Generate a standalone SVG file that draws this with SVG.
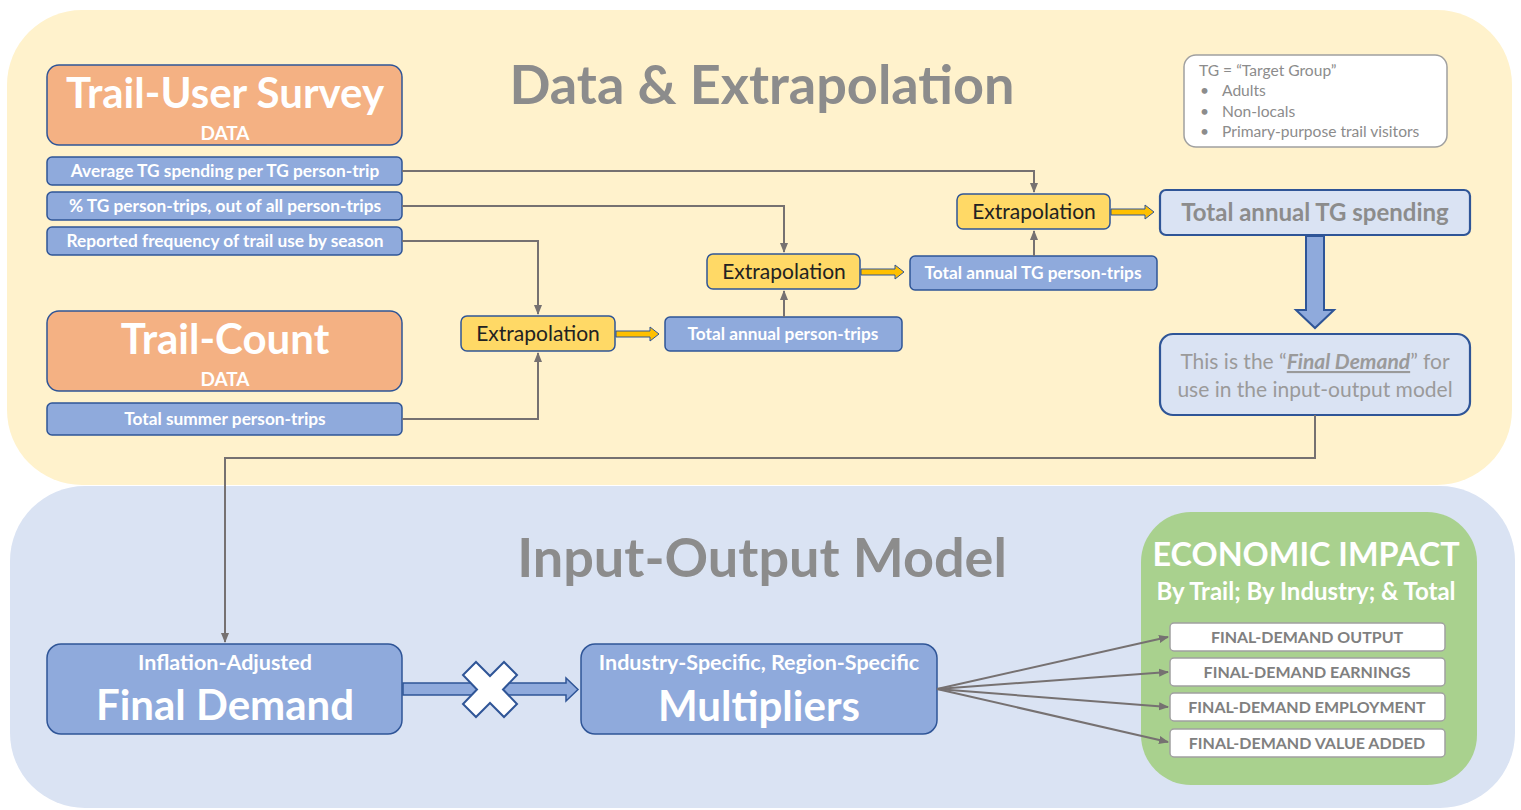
<svg xmlns="http://www.w3.org/2000/svg" width="1521" height="810" viewBox="0 0 1521 810">
<defs>
<style>
text{font-family:Lato,"Open Sans","Liberation Sans",sans-serif}
.bar{fill:#8FAADC;stroke:#2F5597;stroke-width:1.5}
.barT{fill:#fff;font-weight:bold;font-size:17.3px;text-anchor:middle}
.src{fill:#F4B183;stroke:#2F5597;stroke-width:1.5}
.ext{fill:#FFD966;stroke:#2F5597;stroke-width:1.5}
.extT{fill:#222;font-size:21px;text-anchor:middle}
.lite{fill:#DAE3F3;stroke:#2F5597;stroke-width:2.2}
.con{fill:none;stroke:#767171;stroke-width:2}
.yarr{fill:#FFC000;stroke:#2F5597;stroke-width:1}
.imp{fill:#fff;stroke:#A0A0A0;stroke-width:1.5}
.impT{fill:#808080;font-weight:bold;font-size:16px;text-anchor:middle}
.title{fill:#8C8C8C;font-weight:bold;font-size:54px;text-anchor:middle}
.leg{fill:#8C8C8C;font-size:15.6px}
.big{fill:#fff;font-weight:bold;font-size:42px;text-anchor:middle}
.data{fill:#fff;font-weight:bold;font-size:19px;text-anchor:middle}
.sub{fill:#fff;font-weight:bold;font-size:21.5px;text-anchor:middle}
</style>
<marker id="ah" markerWidth="10" markerHeight="10" refX="9" refY="5" orient="auto" markerUnits="userSpaceOnUse">
<path d="M0,1 L10,5 L0,9 z" fill="#767171"/>
</marker>
</defs>

<g id="backgrounds">
<rect x="7" y="10" width="1505" height="475" rx="75" fill="#FFF2CC"/>
<rect x="10" y="486" width="1505" height="322" rx="75" fill="#DAE3F3"/>
</g>

<g id="titles">
<text class="title" x="762" y="104">Data &amp; Extrapolation</text>
<text class="title" x="762" y="577">Input-Output Model</text>
</g>

<g id="legend">
<rect x="1184" y="55" width="263" height="92" rx="12" fill="#fff" stroke="#A0A0A0" stroke-width="1.5"/>
<text class="leg" x="1199" y="76">TG = “Target Group”</text>
<text class="leg" x="1200" y="96">•</text><text class="leg" x="1222" y="96">Adults</text>
<text class="leg" x="1200" y="117">•</text><text class="leg" x="1222" y="117">Non-locals</text>
<text class="leg" x="1200" y="137">•</text><text class="leg" x="1222" y="137">Primary-purpose trail visitors</text>
</g>

<g id="trail-user-survey">
<rect class="src" x="47" y="65" width="355" height="80" rx="12"/>
<text class="big" x="225" y="108">Trail-User Survey</text>
<text class="data" x="225" y="140">DATA</text>
</g>
<g id="avg-spending">
<rect class="bar" x="47" y="157" width="355" height="28" rx="5"/>
<text class="barT" x="225" y="177">Average TG spending per TG person-trip</text>
</g>
<g id="pct-tg">
<rect class="bar" x="47" y="192" width="355" height="28" rx="5"/>
<text class="barT" x="225" y="212">% TG person-trips, out of all person-trips</text>
</g>
<g id="reported-frequency">
<rect class="bar" x="47" y="227" width="355" height="28" rx="5"/>
<text class="barT" x="225" y="247">Reported frequency of trail use by season</text>
</g>

<g id="trail-count">
<rect class="src" x="47" y="311" width="355" height="80" rx="12"/>
<text class="big" x="225" y="354">Trail-Count</text>
<text class="data" x="225" y="386">DATA</text>
</g>
<g id="total-summer">
<rect class="bar" x="47" y="403" width="355" height="32" rx="5"/>
<text class="barT" x="225" y="425">Total summer person-trips</text>
</g>

<g id="extrapolation-1">
<rect class="ext" x="461" y="316" width="154" height="35" rx="6"/>
<text class="extT" x="538" y="341">Extrapolation</text>
</g>
<g id="total-annual">
<rect class="bar" x="665" y="317" width="237" height="34" rx="5"/>
<text class="barT" x="783" y="340">Total annual person-trips</text>
</g>
<g id="extrapolation-2">
<rect class="ext" x="707" y="254" width="153" height="35" rx="6"/>
<text class="extT" x="784" y="279">Extrapolation</text>
</g>
<g id="total-annual-tg">
<rect class="bar" x="910" y="256" width="247" height="34" rx="5"/>
<text class="barT" x="1033" y="279">Total annual TG person-trips</text>
</g>
<g id="extrapolation-3">
<rect class="ext" x="957" y="194" width="153" height="35" rx="6"/>
<text class="extT" x="1034" y="219">Extrapolation</text>
</g>
<g id="total-spending">
<rect class="lite" x="1160" y="190" width="310" height="45" rx="6"/>
<text x="1315" y="221" fill="#8C8C8C" font-weight="bold" font-size="24" text-anchor="middle">Total annual TG spending</text>
</g>
<g id="final-demand-note">
<rect class="lite" x="1160" y="334" width="310" height="81" rx="13"/>
<text x="1315" y="369" fill="#9A9A9A" font-size="21" text-anchor="middle">This is the “<tspan font-weight="bold" font-style="italic" text-decoration="underline">Final Demand</tspan>” for</text>
<text x="1315" y="397" fill="#9A9A9A" font-size="21" text-anchor="middle">use in the input-output model</text>
</g>

<g id="final-demand">
<rect class="bar" x="47" y="644" width="355" height="90" rx="14"/>
<text class="sub" x="225" y="670">Inflation-Adjusted</text>
<text class="big" x="225" y="720">Final Demand</text>
</g>
<g id="multipliers">
<rect class="bar" x="581" y="644" width="356" height="90" rx="14"/>
<text class="sub" x="759" y="670">Industry-Specific, Region-Specific</text>
<text class="big" x="759" y="721">Multipliers</text>
</g>

<g id="economic-impact">
<rect x="1141" y="512" width="336" height="273" rx="50" fill="#A9D18E"/>
<text x="1306" y="566" fill="#fff" font-weight="bold" font-size="32.4" text-anchor="middle">ECONOMIC IMPACT</text>
<text x="1306" y="600" fill="#fff" font-weight="bold" font-size="24" text-anchor="middle">By Trail; By Industry; &amp; Total</text>
</g>
<g id="fd-output">
<rect class="imp" x="1170" y="623" width="275" height="28" rx="4"/>
<text class="impT" x="1307" y="643">FINAL-DEMAND OUTPUT</text>
</g>
<g id="fd-earnings">
<rect class="imp" x="1170" y="658" width="275" height="28" rx="4"/>
<text class="impT" x="1307" y="678">FINAL-DEMAND EARNINGS</text>
</g>
<g id="fd-employment">
<rect class="imp" x="1170" y="693" width="275" height="28" rx="4"/>
<text class="impT" x="1307" y="713">FINAL-DEMAND EMPLOYMENT</text>
</g>
<g id="fd-value-added">
<rect class="imp" x="1170" y="729" width="275" height="28" rx="4"/>
<text class="impT" x="1307" y="749">FINAL-DEMAND VALUE ADDED</text>
</g>

<g id="connectors">
<path class="con" d="M402,171 H1034 V192" marker-end="url(#ah)"/>
<path class="con" d="M402,206 H784 V252" marker-end="url(#ah)"/>
<path class="con" d="M402,241 H538 V314" marker-end="url(#ah)"/>
<path class="con" d="M402,419 H538 V353" marker-end="url(#ah)"/>
<path class="con" d="M784,317 V291" marker-end="url(#ah)"/>
<path class="con" d="M1034,256 V231" marker-end="url(#ah)"/>
<path class="con" d="M1315,415 V458 H225 V642" marker-end="url(#ah)"/>
<path class="con" d="M937,689 L1168,637" marker-end="url(#ah)"/>
<path class="con" d="M937,689 L1168,672" marker-end="url(#ah)"/>
<path class="con" d="M937,689 L1168,707" marker-end="url(#ah)"/>
<path class="con" d="M937,689 L1168,742" marker-end="url(#ah)"/>
<path class="yarr" d="M616,331 H650 V327 L659,334 L650,341 V337 H616 Z"/>
<path class="yarr" d="M861,269 H895 V265 L904,272 L895,279 V275 H861 Z"/>
<path class="yarr" d="M1111,209 H1145 V205 L1154,212 L1145,219 V215 H1111 Z"/>
<path d="M1306,236 H1324 V310 H1334 L1315,328 L1296,310 H1306 Z" fill="#8FAADC" stroke="#2F5597" stroke-width="2"/>
<path d="M403,683 H566 V678 L578,689.5 L566,701 V695 H403 Z" fill="#8FAADC" stroke="#2F5597" stroke-width="1.5"/>
<path d="M476,662 L490,676 L504,662 L517,675 L503,689.5 L517,704 L504,717 L490,703 L476,717 L463,704 L477,689.5 L463,675 Z" fill="#fff" stroke="#2F5597" stroke-width="2"/>
</g>
</svg>
